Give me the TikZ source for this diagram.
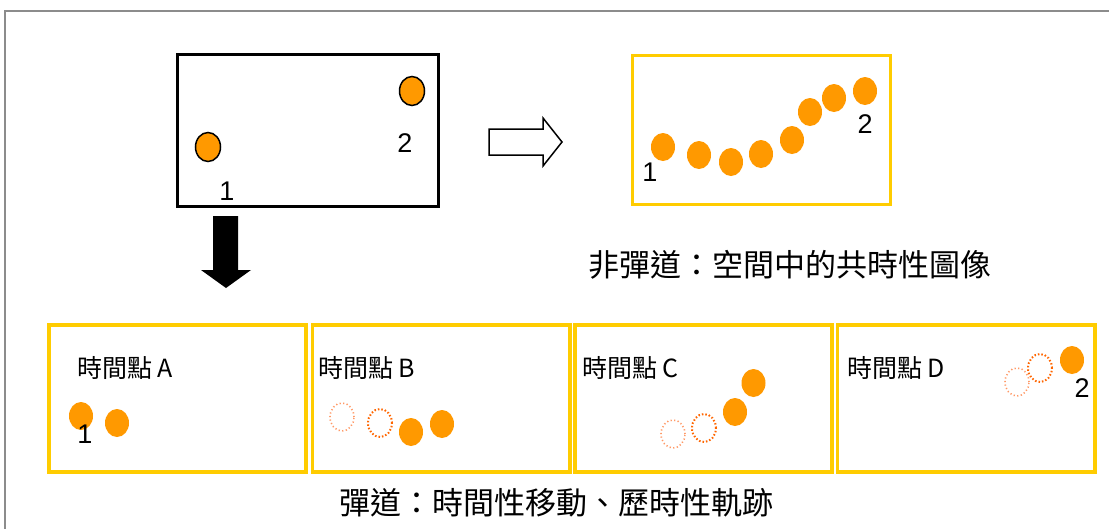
\documentclass[tikz,border=0pt]{standalone}
\usepackage{fontspec}
\setmainfont{Liberation Sans}
\newfontfamily\cjk{Noto Sans CJK TC}
\usetikzlibrary{shapes.geometric}
\definecolor{gold}{HTML}{FFCC00}
\definecolor{ballc}{HTML}{FF9900}
\definecolor{dotdark}{HTML}{FF6600}
\definecolor{dotlight}{HTML}{FF9966}
\definecolor{framegray}{HTML}{8C8C8C}
\tikzset{
  ball/.style={ellipse, fill=ballc, inner sep=0pt, minimum width=24pt, minimum height=28pt},
  oball/.style={ball, draw=black, line width=1.5pt, minimum width=25pt, minimum height=29pt},
  ghostdark/.style={ellipse, draw=dotdark, line width=2pt, dash pattern=on 1.5pt off 2pt, inner sep=0pt, minimum width=24pt, minimum height=28pt},
  ghostlight/.style={ellipse, draw=dotlight, line width=1.6pt, dash pattern=on 1.2pt off 2.4pt, inner sep=0pt, minimum width=24pt, minimum height=28pt},
  goldbox/.style={draw=gold, line width=3.5pt},
  digit/.style={inner sep=0pt, font=\fontsize{27}{30}\selectfont},
  ptitle/.style={inner sep=0pt, anchor=west, font=\cjk\fontsize{25}{28}\selectfont},
  caption/.style={inner sep=0pt, font=\cjk\fontsize{31}{34}\selectfont},
}
\begin{document}
\begin{tikzpicture}[x=1pt, y=-1pt]
\useasboundingbox (0,0) rectangle (1109,528);
\clip (0,0) rectangle (1109,528);
\fill[white] (0,0) rectangle (1109,528);
% outer gray frame
\draw[framegray, line width=2pt] (5,540) -- (5,10.5) -- (1120,10.5);

% top-left black box
\draw[black, line width=3pt] (177.5,54.5) rectangle (438,206);
\node[oball] (b1) at (208,147) {};
\node[oball] (b2) at (412,91) {};
\node[digit] (l1) at (227,191) {1};
\node[digit] (l2) at (405,143) {2};

% black down arrow
\fill[black] (213,216) -- (238,216) -- (238,270) -- (251,270) -- (226,288) -- (201,270) -- (213,270) -- cycle;

% hollow right arrow
\draw[black, line width=1.5pt, line join=miter] (489,129) -- (543,129) -- (543,118) -- (562,142) -- (543,166) -- (543,155) -- (489,155) -- cycle;

% top-right yellow box
\draw[goldbox, line width=3pt] (632,55) rectangle (890,204);
\node[ball] (t1) at (663,147) {};
\node[ball] (t2) at (699,155) {};
\node[ball] (t3) at (731,162) {};
\node[ball] (t4) at (761,154) {};
\node[ball] (t5) at (792,140) {};
\node[ball] (t6) at (810,112) {};
\node[ball] (t7) at (834,98) {};
\node[ball] (t8) at (865,91) {};
\node[digit] (tl1) at (650,172) {1};
\node[digit] (tl2) at (865,124) {2};

\node[caption] (cap1) at (790,265) {非彈道：空間中的共時性圖像};

% bottom panels
\draw[goldbox] (49,325) rectangle (306,472);
\draw[goldbox] (312.5,325) rectangle (570,472);
\draw[goldbox] (575,325) rectangle (832,472);
\draw[goldbox] (837.5,325) rectangle (1095,472);

\node[ptitle] (ta) at (77,368) {時間點 A};
\node[ptitle] (tb) at (318,368) {時間點 B};
\node[ptitle] (tc) at (582,368) {時間點 C};
\node[ptitle] (td) at (847,368) {時間點 D};

% panel A
\node[ball] (a1) at (81,416) {};
\node[ball] (a2) at (117,423) {};
\node[digit] (al1) at (85,434) {1};

% panel B
\node[ghostlight] (bg1) at (342,417) {};
\node[ghostdark] (bg2) at (380,423) {};
\node[ball] (bb1) at (411,432) {};
\node[ball] (bb2) at (442,424) {};

% panel C
\node[ghostlight] (cg1) at (673,434) {};
\node[ghostdark] (cg2) at (704,428) {};
\node[ball] (cb1) at (735,412) {};
\node[ball] (cb2) at (753.5,383) {};

% panel D
\node[ghostlight] (dg1) at (1017,382) {};
\node[ghostdark] (dg2) at (1040,368) {};
\node[ball] (db1) at (1072,360) {};
\node[digit] (dl2) at (1082,388) {2};

\node[caption] (cap2) at (556,503) {彈道：時間性移動、歷時性軌跡};
\end{tikzpicture}
\end{document}
